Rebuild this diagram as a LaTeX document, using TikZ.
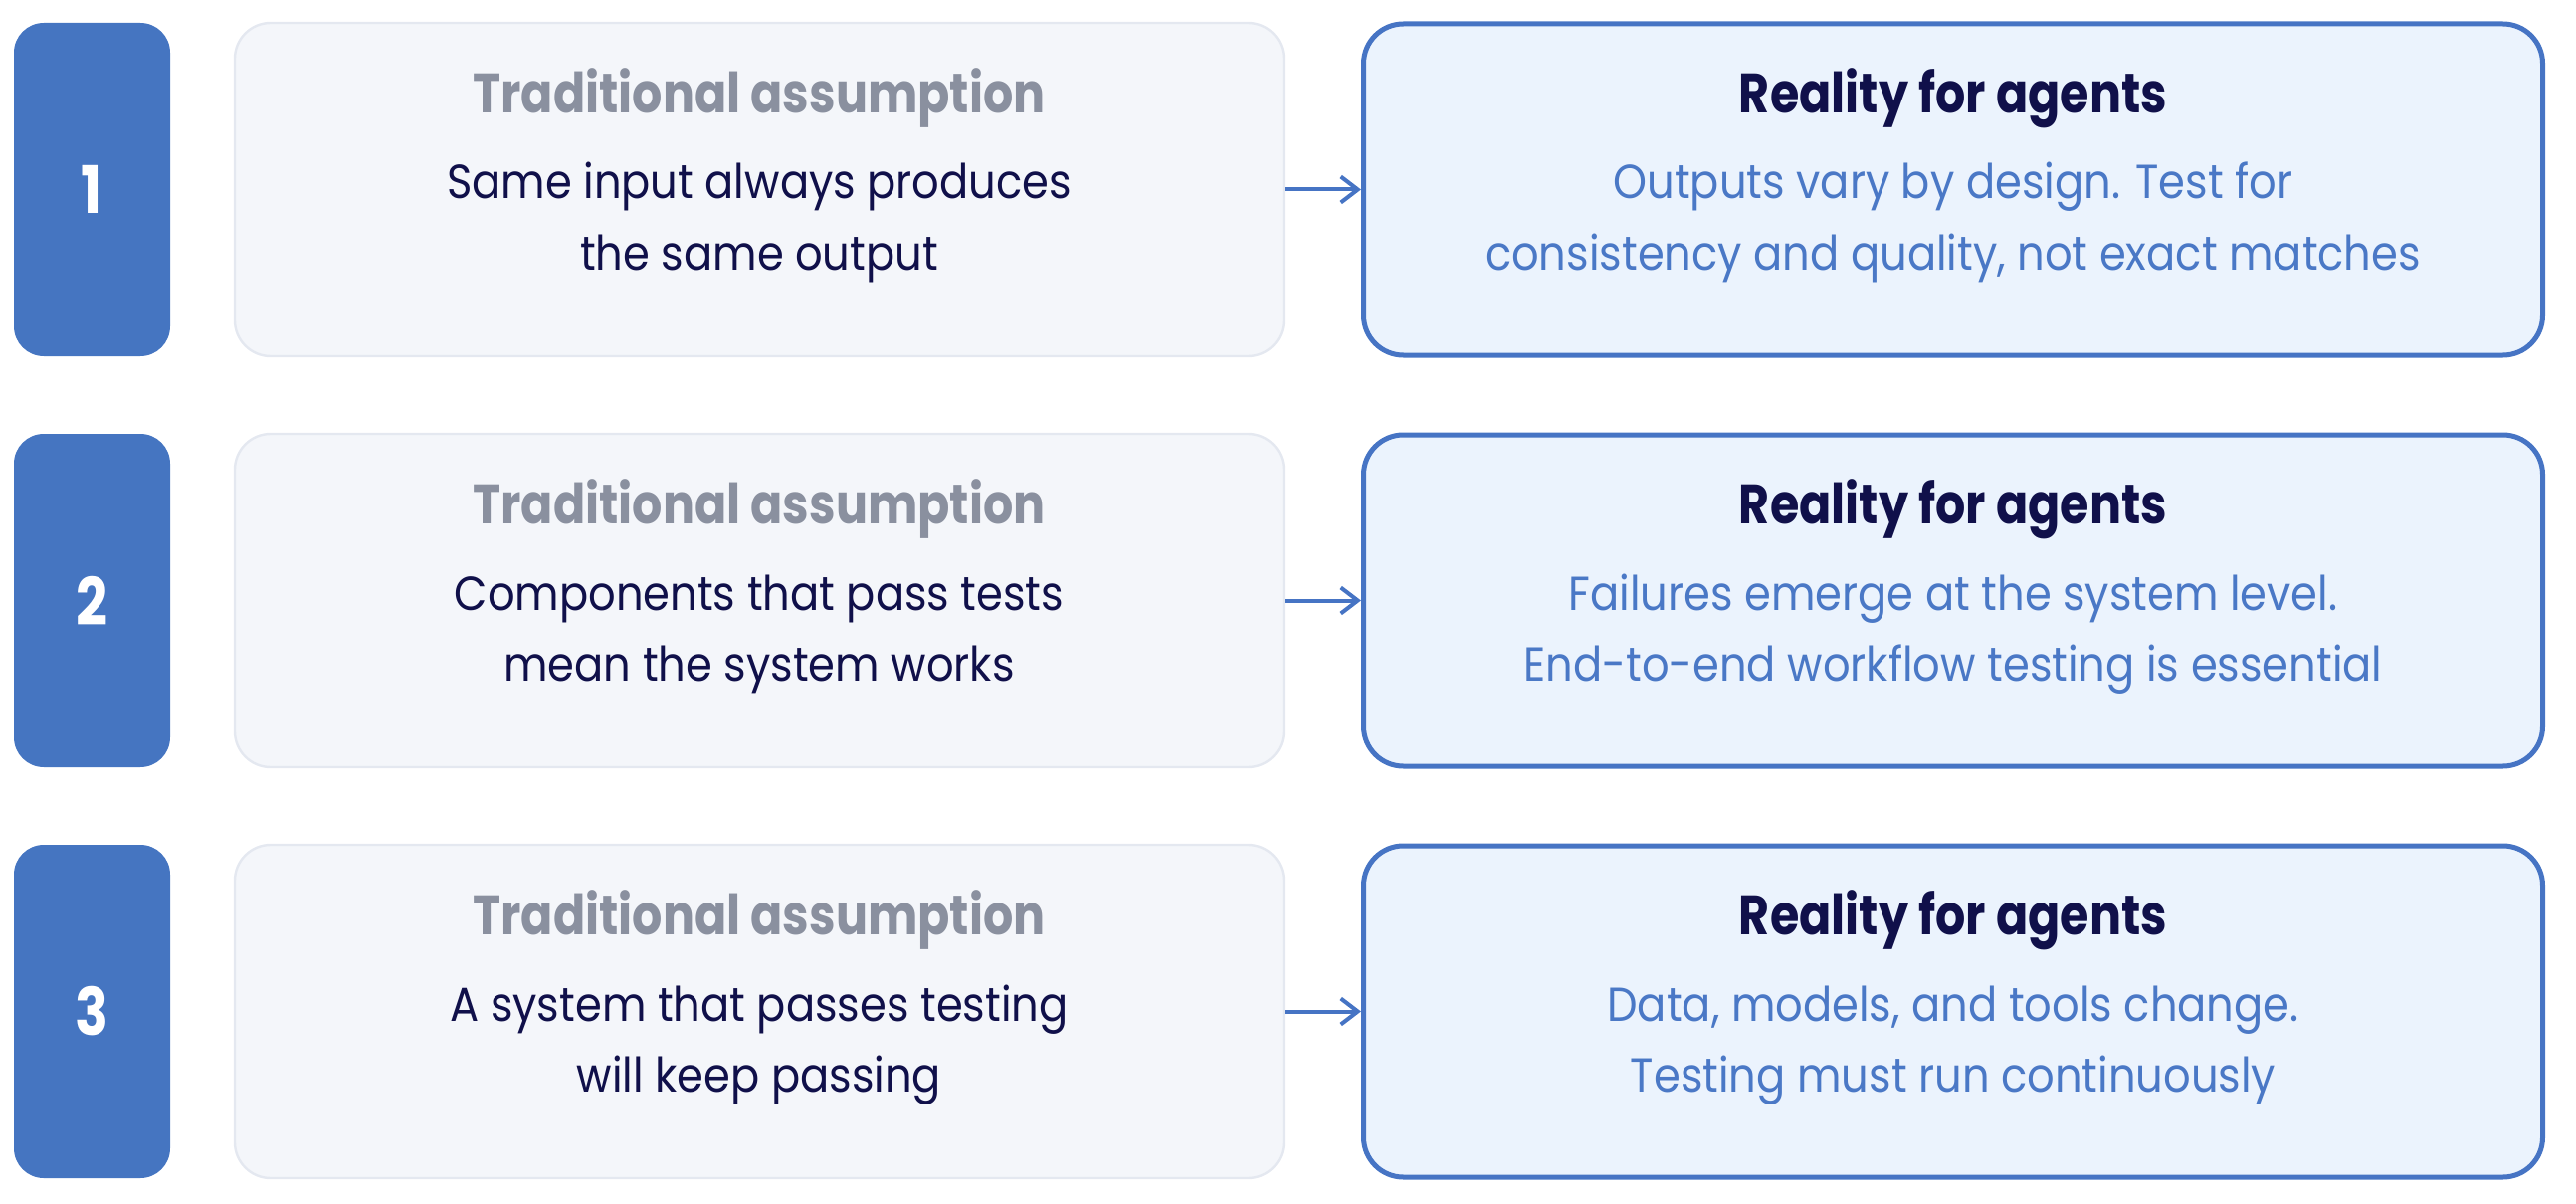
\documentclass[tikz,border=0pt]{standalone}
\usepackage{fontspec}
\usetikzlibrary{arrows.meta,calc}
\setmainfont{Poppins}
\newfontfamily\popsemi[FakeStretch=0.85]{Poppins Bold}
\newfontfamily\popreg[FakeStretch=0.9]{Poppins}
\definecolor{numblue}{HTML}{4575C1}
\definecolor{leftfill}{HTML}{F4F6FA}
\definecolor{leftborder}{HTML}{E4E8F0}
\definecolor{rightfill}{HTML}{EBF3FD}
\definecolor{rblue}{HTML}{4674C4}
\definecolor{titlegray}{HTML}{8A909F}
\definecolor{navy}{HTML}{10104A}
\definecolor{btext}{HTML}{4A78C6}
\tikzset{
  numbox/.style={fill=numblue, rounded corners=15pt, minimum width=78.5pt, minimum height=167.5pt, inner sep=0pt, text=white, font=\popsemi\fontsize{33}{36}\selectfont},
  leftbox/.style={fill=leftfill, draw=leftborder, line width=1.2pt, rounded corners=18pt, minimum width=527pt, minimum height=167.5pt, inner sep=0pt},
  rightbox/.style={fill=rightfill, draw=rblue, line width=2.5pt, rounded corners=20pt, minimum width=592.5pt, minimum height=166.5pt, inner sep=0pt},
  ttl/.style={anchor=base, inner sep=0pt, font=\popsemi\fontsize{28}{32}\selectfont},
  bodyl/.style={anchor=base, inner sep=0pt, font=\popreg\fontsize{24}{28}\selectfont},
  conn/.style={draw=rblue, line width=2pt, -{Straight Barb[length=8.5pt,width=13pt,line width=2pt]}}
}
\begin{document}
\begin{tikzpicture}[x=0.5pt,y=-0.5pt]
\useasboundingbox (0,0) rectangle (2589,1209);
\foreach \i/\yc/\la/\lb/\ra/\rb in {
  1/190.5/{Same input always produces}/{the same output}/{Outputs vary by design. Test for}/{consistency and quality, not exact matches},
  2/603.5/{Components that pass tests}/{mean the system works}/{Failures emerge at the system level.}/{End-to-end workflow testing is essential},
  3/1016.5/{A system that passes testing}/{will keep passing}/{Data, models, and tools change.}/{Testing must run continuously}}{
  \node[numbox] (n\i) at (92.5,\yc) {\i};
  \node[leftbox] (l\i) at (763,\yc) {};
  \node[rightbox] (r\i) at (1963,\yc) {};
  \node[ttl, text=titlegray] (lt\i) at ($(l\i.center)+(0,-77)$) {Traditional assumption};
  \node[bodyl, text=navy] (la\i) at ($(l\i.center)+(0,9.5)$) {\la};
  \node[bodyl, text=navy] (lb\i) at ($(l\i.center)+(0,80.5)$) {\lb};
  \node[ttl, text=navy] (rt\i) at ($(r\i.center)+(0,-77)$) {Reality for agents};
  \node[bodyl, text=btext] (ra\i) at ($(r\i.center)+(0,9.5)$) {\ra};
  \node[bodyl, text=btext] (rb\i) at ($(r\i.center)+(0,80.5)$) {\rb};
  \draw[conn] (l\i.east) -- (r\i.west);
}
\end{tikzpicture}
\end{document}
